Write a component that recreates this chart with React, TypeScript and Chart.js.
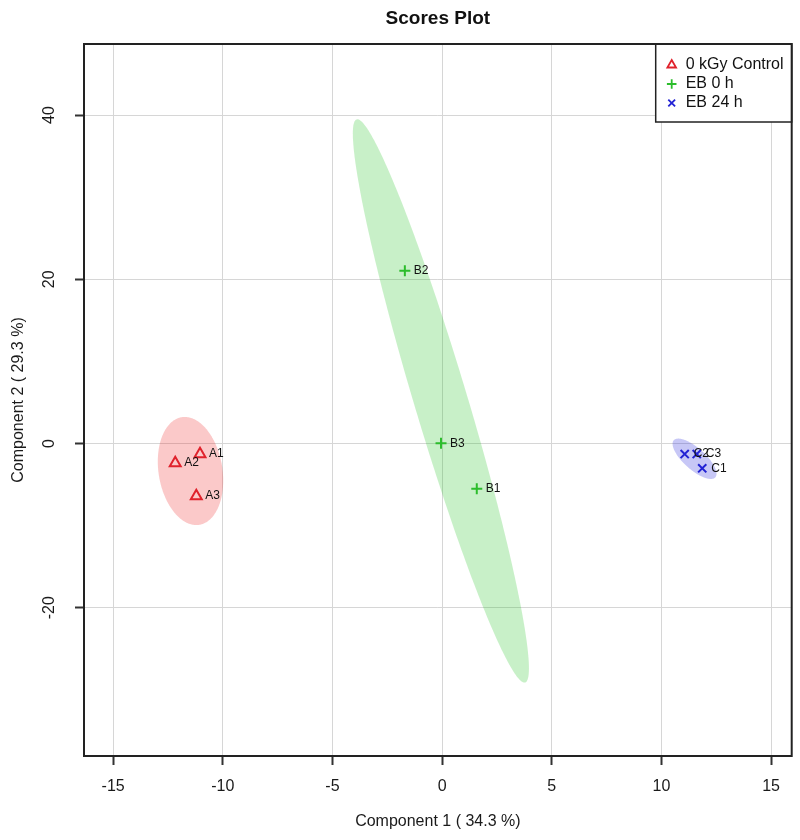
import React, { useEffect, useRef } from "react";
import { Chart, registerables } from "chart.js";

Chart.register(...registerables);

// ---------- data ----------
const groupNames = ["0 kGy Control", "EB 0 h", "EB 24 h"];

const controlLabels = ["A1", "A2", "A3"];
const controlX = [-11.04, -12.17, -11.21];
const controlY = [-1.28, -2.38, -6.39];

const eb0Labels = ["B1", "B2", "B3"];
const eb0X = [1.58, -1.7, -0.05];
const eb0Y = [-5.52, 21.05, 0.03];

const eb24Labels = ["C1", "C2", "C3"];
const eb24X = [11.86, 11.06, 11.61];
const eb24Y = [-3.02, -1.28, -1.28];

const xTickValues = [-15, -10, -5, 0, 5, 10, 15];
const yTickValues = [-20, 0, 20, 40];
const xLimits = [-16.33, 15.94];
const yLimits = [-38.06, 48.66];
const confidenceLevel = 0.95;

const chartTitle = "Scores Plot";
const xTitle = "Component 1 ( 34.3 %)";
const yTitle = "Component 2 ( 29.3 %)";

// ---------- styles ----------
const FONT = "'Liberation Sans', Arial, Helvetica, sans-serif";
const markerColors = ["#e0222c", "#2cbd2c", "#2222d4"];
const ellipseFills = [
  "rgba(240,40,40,0.25)",
  "rgba(34,197,34,0.25)",
  "rgba(30,30,220,0.25)",
];
const markerStyles = ["triangle", "cross", "crossRot"];
const markerRadii = [6.3, 5.5, 5.8];

const groups = [
  { name: groupNames[0], xs: controlX, ys: controlY, names: controlLabels },
  { name: groupNames[1], xs: eb0X, ys: eb0Y, names: eb0Labels },
  { name: groupNames[2], xs: eb24X, ys: eb24Y, names: eb24Labels },
];

function mean(a: number[]) {
  return a.reduce((s, v) => s + v, 0) / a.length;
}

const ellipsePlugin = {
  id: "confidenceEllipses",
  beforeDatasetsDraw(chart: any) {
    const { ctx, chartArea } = chart;
    const xs = chart.scales.x;
    const ys = chart.scales.y;
    ctx.save();
    ctx.beginPath();
    ctx.rect(chartArea.left, chartArea.top, chartArea.width, chartArea.height);
    ctx.clip();
    const t = Math.sqrt(-2 * Math.log(1 - confidenceLevel));
    groups.forEach((g, gi) => {
      const n = g.xs.length;
      const mx = mean(g.xs);
      const my = mean(g.ys);
      let vx = 0,
        vy = 0,
        cxy = 0;
      for (let i = 0; i < n; i++) {
        vx += (g.xs[i] - mx) ** 2;
        vy += (g.ys[i] - my) ** 2;
        cxy += (g.xs[i] - mx) * (g.ys[i] - my);
      }
      vx /= n - 1;
      vy /= n - 1;
      cxy /= n - 1;
      const sx = Math.sqrt(vx);
      const sy = Math.sqrt(vy);
      const r = Math.max(-1, Math.min(1, cxy / (sx * sy)));
      const d = Math.acos(r);
      const steps = 240;
      ctx.beginPath();
      for (let k = 0; k <= steps; k++) {
        const a = (k / steps) * 2 * Math.PI;
        const px = xs.getPixelForValue(mx + t * sx * Math.cos(a + d / 2));
        const py = ys.getPixelForValue(my + t * sy * Math.cos(a - d / 2));
        if (k === 0) ctx.moveTo(px, py);
        else ctx.lineTo(px, py);
      }
      ctx.closePath();
      ctx.fillStyle = ellipseFills[gi];
      ctx.fill();
    });
    ctx.restore();
  },
};

const labelPlugin = {
  id: "pointLabels",
  afterDatasetsDraw(chart: any) {
    const { ctx } = chart;
    ctx.save();
    ctx.font = `12px ${FONT}`;
    ctx.fillStyle = "#111";
    ctx.textAlign = "left";
    ctx.textBaseline = "middle";
    groups.forEach((g, gi) => {
      const meta = chart.getDatasetMeta(gi);
      meta.data.forEach((pt: any, j: number) => {
        ctx.fillText(g.names[j], pt.x + 9, pt.y);
      });
    });
    ctx.restore();
  },
};

function drawMarker(ctx: CanvasRenderingContext2D, style: string, x: number, y: number, r: number, color: string) {
  ctx.save();
  ctx.strokeStyle = color;
  ctx.lineWidth = 1.8;
  ctx.beginPath();
  if (style === "triangle") {
    ctx.moveTo(x, y - r);
    ctx.lineTo(x + r * 0.866, y + r * 0.5);
    ctx.lineTo(x - r * 0.866, y + r * 0.5);
    ctx.closePath();
  } else if (style === "cross") {
    ctx.moveTo(x - r, y);
    ctx.lineTo(x + r, y);
    ctx.moveTo(x, y - r);
    ctx.lineTo(x, y + r);
  } else {
    const q = r * 0.7071;
    ctx.moveTo(x - q, y - q);
    ctx.lineTo(x + q, y + q);
    ctx.moveTo(x - q, y + q);
    ctx.lineTo(x + q, y - q);
  }
  ctx.stroke();
  ctx.restore();
}

const frameLegendPlugin = {
  id: "frameLegend",
  afterDraw(chart: any) {
    const { ctx, chartArea } = chart;
    ctx.save();
    // legend box
    const w = 136;
    const h = 78;
    const left = chartArea.right - w;
    const top = chartArea.top;
    ctx.fillStyle = "#fff";
    ctx.fillRect(left, top, w, h);
    ctx.strokeStyle = "#222";
    ctx.lineWidth = 1.5;
    ctx.strokeRect(left, top, w, h);
    ctx.font = `16px ${FONT}`;
    ctx.fillStyle = "#111";
    ctx.textAlign = "left";
    ctx.textBaseline = "middle";
    groups.forEach((g, i) => {
      const cy = top + 21 + i * 19;
      drawMarker(ctx, markerStyles[i], left + 16, cy, [5, 4.8, 4.8][i], markerColors[i]);
      ctx.fillText(g.name, left + 30, cy);
    });
    // plot frame
    ctx.strokeStyle = "#222";
    ctx.lineWidth = 2;
    ctx.strokeRect(chartArea.left, chartArea.top, chartArea.width, chartArea.height);
    ctx.restore();
  },
};

export default function App() {
  const ref = useRef<HTMLCanvasElement>(null);
  useEffect(() => {
    document.body.style.margin = "0";
    const datasets = groups.map((g, gi) => ({
      label: g.name,
      data: g.xs.map((x, i) => ({ x, y: g.ys[i] })),
      pointStyle: markerStyles[gi],
      pointRadius: markerRadii[gi],
      pointBorderWidth: 2,
      pointBorderColor: markerColors[gi],
      pointBackgroundColor: "rgba(0,0,0,0)",
      showLine: false,
    }));
    const gridOpts = {
      color: "#d6d6d6",
      lineWidth: 1,
      tickLength: 9,
      tickColor: "#333",
      tickWidth: 2,
      drawTicks: true,
    };
    const chart = new Chart(ref.current as HTMLCanvasElement, {
      type: "scatter",
      data: { datasets },
      plugins: [ellipsePlugin, labelPlugin, frameLegendPlugin],
      options: {
        animation: false,
        responsive: false,
        devicePixelRatio: 1,
        layout: { padding: { top: 0, right: 6, bottom: 0, left: 0 } },
        plugins: {
          legend: { display: false },
          tooltip: { enabled: false },
          title: {
            display: true,
            text: chartTitle,
            fullSize: false,
            color: "#111",
            font: { family: FONT, size: 19, weight: "bold" },
            padding: { top: 7.5, bottom: 13.7 },
          },
        },
        scales: {
          x: {
            type: "linear",
            min: xLimits[0],
            max: xLimits[1],
            afterBuildTicks: (s: any) => {
              s.ticks = xTickValues.map((value) => ({ value }));
            },
            afterFit: (s: any) => {
              s.height = 84;
            },
            grid: gridOpts,
            border: { display: false },
            ticks: {
              font: { family: FONT, size: 16 },
              color: "#1a1a1a",
              padding: 12,
              maxRotation: 0,
              autoSkip: false,
            },
            title: {
              display: true,
              text: xTitle,
              color: "#1a1a1a",
              font: { family: FONT, size: 16 },
              padding: { top: 0, bottom: 9 },
            },
          },
          y: {
            type: "linear",
            min: yLimits[0],
            max: yLimits[1],
            afterBuildTicks: (s: any) => {
              s.ticks = yTickValues.map((value) => ({ value }));
            },
            afterFit: (s: any) => {
              s.width = 84;
            },
            grid: gridOpts,
            border: { display: false },
            ticks: {
              font: { family: FONT, size: 16 },
              color: "#1a1a1a",
              padding: 13.5,
              minRotation: 90,
              maxRotation: 90,
              crossAlign: "center",
              autoSkip: false,
            },
            title: {
              display: true,
              text: yTitle,
              color: "#1a1a1a",
              font: { family: FONT, size: 16 },
              padding: { top: 9, bottom: 0 },
            },
          },
        },
      } as any,
    });
    return () => chart.destroy();
  }, []);
  return (
    <div style={{ width: 800, height: 840 }}>
      <canvas ref={ref} width={800} height={840} style={{ display: "block" }} />
    </div>
  );
}
